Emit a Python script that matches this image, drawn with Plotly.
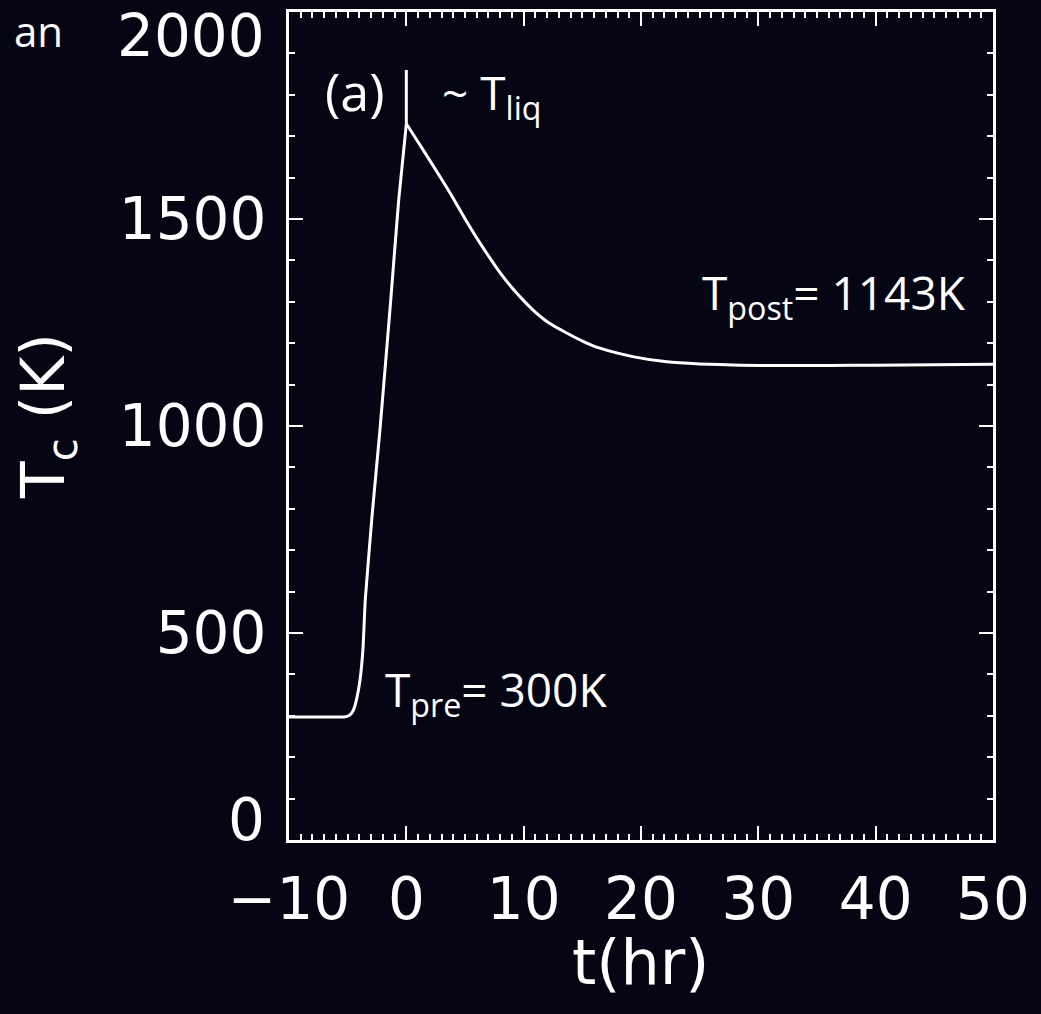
import plotly.graph_objects as go

# Core temperature history
# heating phase (pre-impact plateau and rise to peak)
rise_t = [-10, -8, -6, -5.3, -5.0, -4.7, -4.45, -4.2, -3.95, -3.7, -3.5, -2.9, -2.25, -1.33, -0.65, 0.0]
rise_T = [297, 297, 297, 297, 299, 305, 318, 345, 386, 460, 580, 790, 990, 1304, 1546, 1730]
# cooling phase (peak down to the post-event plateau)
cool_t = [0.0, 1.0, 2.3, 3.7, 5.1, 6.6, 8.0, 9.4, 10.8, 12.2, 13.7, 15.1, 16.5, 19.4, 22.2, 25.0, 28.4, 32, 36, 40, 45, 50]
cool_T = [1730, 1686, 1628, 1564, 1496, 1428, 1370, 1321, 1280, 1248, 1224, 1204, 1188, 1167, 1155, 1150, 1147, 1146, 1146, 1147, 1148, 1149]

# liquidus spike at t = 0
spike_t = [0, 0]
spike_T = [1730, 1860]

x_ticks = [-10, 0, 10, 20, 30, 40, 50]
y_ticks = [0, 500, 1000, 1500, 2000]
y_tick_text = ["", "500", "1000", "1500", ""]   # end labels drawn inset, as in the original

BG = "#050514"
FG = "white"
TICK_FONT = dict(family="DejaVu Sans", size=58, color=FG)
ANN_FONT = dict(family="Open Sans", size=46, color=FG)

# plot-area geometry (pixels)
W, H = 1041, 1014
L, R, T, B = 289, 48, 12, 174
PW, PH = W - L - R, H - T - B


def px_x(px):
    return (px - L) / PW


def px_y(py):
    return (H - B - py) / PH


fig = go.Figure()
fig.add_trace(go.Scatter(x=rise_t, y=rise_T, mode="lines",
                         line=dict(color=FG, width=3, shape="spline", smoothing=0.5), showlegend=False))
fig.add_trace(go.Scatter(x=cool_t, y=cool_T, mode="lines",
                         line=dict(color=FG, width=3, shape="spline", smoothing=0.6), showlegend=False))
fig.add_trace(go.Scatter(x=spike_t, y=spike_T, mode="lines",
                         line=dict(color=FG, width=3), showlegend=False))

axis_common = dict(
    showgrid=False, zeroline=False, showline=True, linecolor=FG, linewidth=3,
    mirror="allticks", ticks="inside", tickcolor=FG, tickwidth=2, ticklen=14,
    tickfont=TICK_FONT,
)

fig.update_xaxes(range=[-10, 50], tickvals=x_ticks,
                 ticktext=[str(v).replace("-", "\u2212") for v in x_ticks],
                 ticklabelstandoff=6, ticklabeloverflow="allow",
                 minor=dict(dtick=1, ticks="inside", ticklen=6, tickcolor=FG, tickwidth=2, showgrid=False),
                 **axis_common)
fig.update_yaxes(range=[0, 2000], tickvals=y_ticks, ticktext=y_tick_text,
                 ticklabelstandoff=8, ticklabeloverflow="allow",
                 minor=dict(dtick=100, ticks="inside", ticklen=6, tickcolor=FG, tickwidth=2, showgrid=False),
                 **axis_common)

# end tick labels of the y axis (inset like the original IDL plot)
fig.add_annotation(x=px_x(267), y=px_y(36), xref="paper", yref="paper", text=str(y_ticks[-1]),
                   showarrow=False, font=TICK_FONT, xanchor="right", yanchor="middle")
fig.add_annotation(x=px_x(267), y=px_y(820), xref="paper", yref="paper", text=str(y_ticks[0]),
                   showarrow=False, font=TICK_FONT, xanchor="right", yanchor="middle")

# axis titles
fig.add_annotation(x=px_x(640), y=px_y(962), xref="paper", yref="paper", text="t(hr)",
                   showarrow=False, font=dict(family="DejaVu Sans", size=62, color=FG),
                   xanchor="center", yanchor="middle")
fig.add_annotation(x=px_x(48), y=px_y(416), xref="paper", yref="paper", text="T<sub>c</sub> (K)",
                   showarrow=False, font=dict(family="DejaVu Sans", size=60, color=FG),
                   textangle=-90, xanchor="center", yanchor="middle")

# in-plot labels
fig.add_annotation(x=px_x(355), y=px_y(91), xref="paper", yref="paper", text="(a)", showarrow=False,
                   font=dict(family="Open Sans", size=52, color=FG), xanchor="center", yanchor="middle")
fig.add_annotation(x=px_x(440), y=px_y(95), xref="paper", yref="paper", text="~ T<sub>liq</sub>",
                   showarrow=False, font=ANN_FONT, xanchor="left", yanchor="middle")
fig.add_annotation(x=px_x(383), y=px_y(692), xref="paper", yref="paper", text="T<sub>pre</sub>= 300K",
                   showarrow=False, font=ANN_FONT, xanchor="left", yanchor="middle")
fig.add_annotation(x=px_x(700), y=px_y(295), xref="paper", yref="paper", text="T<sub>post</sub>= 1143K",
                   showarrow=False, font=ANN_FONT, xanchor="left", yanchor="middle")
fig.add_annotation(x=px_x(12), y=px_y(0), xref="paper", yref="paper", text="an", showarrow=False,
                   font=dict(family="Open Sans", size=42, color=FG), xanchor="left", yanchor="top")

fig.update_layout(
    width=W, height=H,
    margin=dict(l=L, r=R, t=T, b=B, autoexpand=False),
    paper_bgcolor=BG, plot_bgcolor=BG,
)

fig.write_html("out.html")
